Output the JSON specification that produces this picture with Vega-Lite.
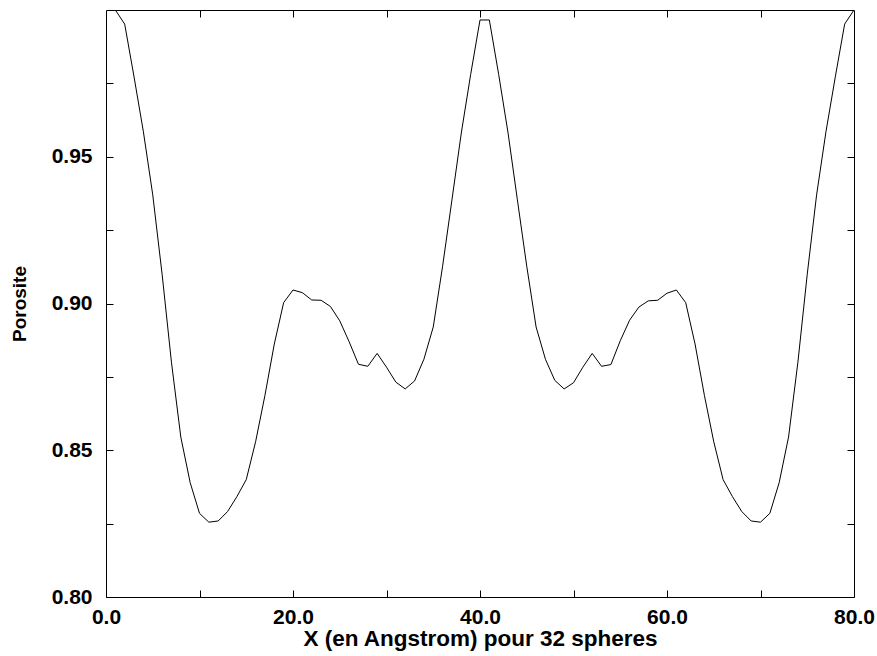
{
  "$schema": "https://vega.github.io/schema/vega-lite/v6.json",
  "autosize": {"type": "none"},
  "padding": {"left": 106, "top": 10, "right": 23, "bottom": 59},
  "width": 748,
  "height": 587,
  "background": "white",
  "config": {
    "view": {"stroke": "black", "strokeWidth": 1},
    "axis": {"labelFont": "Liberation Sans", "titleFont": "Liberation Sans", "labelFontWeight": "bold", "titleFontWeight": "bold", "labelColor": "black", "titleColor": "black", "tickColor": "black", "domain": false, "grid": false, "tickWidth": 1}
  },
  "data": {"values": [
    {"x": 1, "p": 1.0}, {"x": 2, "p": 0.9952}, {"x": 3, "p": 0.9772}, {"x": 4, "p": 0.9585}, {"x": 5, "p": 0.937},
    {"x": 6, "p": 0.910}, {"x": 7, "p": 0.880}, {"x": 8, "p": 0.8545}, {"x": 9, "p": 0.839}, {"x": 10, "p": 0.8285},
    {"x": 11, "p": 0.8255}, {"x": 12, "p": 0.8259}, {"x": 13, "p": 0.8291}, {"x": 14, "p": 0.8342}, {"x": 15, "p": 0.840},
    {"x": 16, "p": 0.8529}, {"x": 17, "p": 0.8687}, {"x": 18, "p": 0.8862}, {"x": 19, "p": 0.9003}, {"x": 20, "p": 0.9046},
    {"x": 21, "p": 0.9037}, {"x": 22, "p": 0.9012}, {"x": 23, "p": 0.9011}, {"x": 24, "p": 0.899}, {"x": 25, "p": 0.8941},
    {"x": 26, "p": 0.887}, {"x": 27, "p": 0.8793}, {"x": 28, "p": 0.8786}, {"x": 29, "p": 0.883}, {"x": 30, "p": 0.8783},
    {"x": 31, "p": 0.8732}, {"x": 32, "p": 0.8709}, {"x": 33, "p": 0.8736}, {"x": 34, "p": 0.881}, {"x": 35, "p": 0.892},
    {"x": 36, "p": 0.9127}, {"x": 37, "p": 0.9353}, {"x": 38, "p": 0.9581}, {"x": 39, "p": 0.978}, {"x": 40, "p": 0.9966},
    {"x": 41, "p": 0.9966}, {"x": 42, "p": 0.978}, {"x": 43, "p": 0.9581}, {"x": 44, "p": 0.9353}, {"x": 45, "p": 0.9127},
    {"x": 46, "p": 0.892}, {"x": 47, "p": 0.881}, {"x": 48, "p": 0.8738}, {"x": 49, "p": 0.8709}, {"x": 50, "p": 0.873},
    {"x": 51, "p": 0.8783}, {"x": 52, "p": 0.883}, {"x": 53, "p": 0.8786}, {"x": 54, "p": 0.8792}, {"x": 55, "p": 0.8873},
    {"x": 56, "p": 0.8943}, {"x": 57, "p": 0.8988}, {"x": 58, "p": 0.9009}, {"x": 59, "p": 0.9011}, {"x": 60, "p": 0.9035},
    {"x": 61, "p": 0.9046}, {"x": 62, "p": 0.9003}, {"x": 63, "p": 0.8862}, {"x": 64, "p": 0.8687}, {"x": 65, "p": 0.8529},
    {"x": 66, "p": 0.840}, {"x": 67, "p": 0.8342}, {"x": 68, "p": 0.8291}, {"x": 69, "p": 0.8259}, {"x": 70, "p": 0.8255},
    {"x": 71, "p": 0.8285}, {"x": 72, "p": 0.839}, {"x": 73, "p": 0.8545}, {"x": 74, "p": 0.880}, {"x": 75, "p": 0.910},
    {"x": 76, "p": 0.937}, {"x": 77, "p": 0.9585}, {"x": 78, "p": 0.9772}, {"x": 79, "p": 0.9952}, {"x": 80, "p": 1.0}
  ]},
  "resolve": {"axis": {"x": "independent", "y": "independent"}},
  "layer": [
    {
      "mark": {"type": "line", "color": "black", "strokeWidth": 1, "clip": true},
      "encoding": {
        "x": {"field": "x", "type": "quantitative",
          "scale": {"domain": [0, 80], "nice": false, "zero": false},
          "axis": {"orient": "bottom", "title": "X (en Angstrom) pour 32 spheres", "values": [0, 10, 20, 30, 40, 50, 60, 70, 80],
            "labelExpr": "datum.value % 20 === 0 ? format(datum.value, '.1f') : ''",
            "tickSize": -7, "labelPadding": 16, "labelFontSize": 21, "titleFontSize": 22.5, "titlePadding": 0,
            "labelFlush": false, "labelOverlap": false,
            "encode": {"ticks": {"update": {"y2": {"signal": "datum.value % 20 === 0 ? -7 : -4"}}}}}},
        "y": {"field": "p", "type": "quantitative",
          "scale": {"domain": [0.8, 1.0], "nice": false, "zero": false},
          "axis": {"orient": "left", "title": "Porosite", "values": [0.8, 0.825, 0.85, 0.875, 0.9, 0.925, 0.95, 0.975],
            "labelExpr": "round(datum.value * 1000) % 50 === 0 ? format(datum.value, '.2f') : ''",
            "tickSize": -7, "labelPadding": 21, "labelFontSize": 21, "titleFontSize": 19, "titlePadding": 22,
            "labelFlush": false, "labelOverlap": false,
            "encode": {"ticks": {"update": {"x2": {"signal": "round(datum.value * 1000) % 50 === 0 ? 7 : 4"}}}}}}
      }
    },
    {
      "mark": {"type": "line", "color": "black", "strokeOpacity": 0},
      "encoding": {
        "x": {"field": "x", "type": "quantitative",
          "axis": {"orient": "top", "title": null, "labels": false, "values": [10, 20, 30, 40, 50, 60, 70],
            "tickSize": -7,
            "encode": {"ticks": {"update": {"y2": {"signal": "datum.value % 20 === 0 ? 7 : 4"}}}}}},
        "y": {"field": "p", "type": "quantitative",
          "axis": {"orient": "right", "title": null, "labels": false, "values": [0.825, 0.85, 0.875, 0.9, 0.925, 0.95, 0.975],
            "tickSize": -7,
            "encode": {"ticks": {"update": {"x2": {"signal": "round(datum.value * 1000) % 50 === 0 ? -7 : -4"}}}}}}
      }
    }
  ]
}
